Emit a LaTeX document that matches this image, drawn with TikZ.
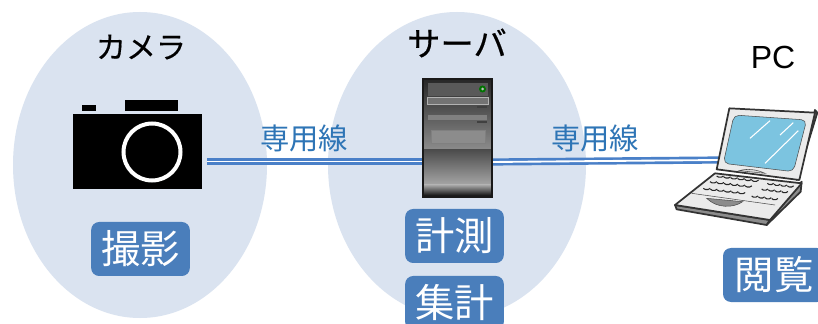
\documentclass[tikz,border=0pt]{standalone}
\usepackage{fontspec}
\setmainfont{Liberation Sans}
\newfontfamily\jpfont{Noto Sans CJK JP}
\newfontfamily\jptitle[FakeBold=0.5]{Noto Sans CJK JP}
\definecolor{zone}{HTML}{DAE3F0}
\definecolor{tagblue}{HTML}{4A7EBB}
\definecolor{wireblue}{HTML}{4A80C8}
\definecolor{labelblue}{HTML}{2E75B6}
\definecolor{screenblue}{HTML}{7CC4E0}
\begin{document}
\begin{tikzpicture}[x=.75pt,y=-.75pt]
	\tikzstyle{zonearea}=[fill=zone]
	\tikzstyle{title}=[text=black]
	\tikzstyle{wirelabel}=[font=\jpfont\fontsize{22}{22}\selectfont, text=labelblue]
	\tikzstyle{tag}=[fill=tagblue, rounded corners=6pt, text=white, minimum width=74pt, minimum height=40.5pt, inner sep=0pt, font=\jpfont\fontsize{29.5}{29.5}\selectfont]
	\tikzstyle{wire}=[draw=wireblue, line width=2pt, double=white, double distance=1.4pt]
	\tikzstyle{laptopline}=[draw=black!80, line width=1.3pt, line join=round]
	\clip (0,0) rectangle (818,324);
	\fill[white] (0,0) rectangle (818,324);
	% zones
	\fill[zonearea] (140,165) ellipse [x radius=127, y radius=153];
	\fill[zonearea] (457,165) ellipse [x radius=129, y radius=153];
	% wires
	\coordinate (camout) at (207,161.5);
	\coordinate (srvin) at (424,161.5);
	\coordinate (srvout) at (492,162);
	\coordinate (pcin) at (719,160);
	\draw[wire] (camout)--(srvin);
	\draw[wire] (srvout)--(pcin);
	% camera
	\fill[black] (82,105) rectangle (96,111);
	\fill[black] (125,100) rectangle (178,111);
	\node[fill=black, minimum width=96.75pt, minimum height=56.25pt, inner sep=0pt] (camera) at (137.5,151.5) {};
	\draw[white, line width=3pt] (152,152) circle [radius=28.5];
	% server
	\fill[top color=black!85, bottom color=black!45] (423,79) rectangle (492,150);
	\fill[top color=black!70, bottom color=black!35] (423,150) rectangle (492,185);
	\fill[top color=black!35, bottom color=black] (423,185) rectangle (492,197);
	\node[draw=black!90, line width=.8pt, minimum width=51.75pt, minimum height=88.5pt, inner sep=0pt] (server) at (457.5,138) {};
	\fill[black!65] (428,83) rectangle (488,96);
	\draw[black!30, fill=black!55, line width=.7pt] (427,97) rectangle (488,104);
	\fill[black!50] (428,115) rectangle (487,120);
	\fill[black!75] (477,106) rectangle (487,108);
	\fill[black!75] (477,121) rectangle (487,123);
	\draw[black!50, fill=black!45] (431,130) rectangle (485,143);
	\fill[green!45!black] (482.5,89) circle [radius=3.5];
	\fill[black!25] (482.5,89) circle [radius=1.5];
	% laptop
	\begin{scope}[shift={(650,80)},x=.25pt,y=-.25pt]
		\draw[laptopline, fill=black!55] (440,300)--(502,98)--(495,90)--(448,290)--cycle;
		\draw[laptopline, fill=black!8] (238,85)--(495,98)--(448,300)--(200,268)--cycle;
		\draw[black!70, fill=screenblue, rounded corners=4pt] (252,105)--(470,120)--(430,275)--(220,250)--cycle;
		\draw[white, line width=.8pt] (300,175)--(360,122);
		\draw[white, line width=.8pt] (390,165)--(430,128);
		\draw[white, line width=.8pt] (345,250)--(445,152);
		\draw[laptopline, fill=black!45] (75,375)--(80,388)--(350,435)--(360,420)--cycle;
		\draw[laptopline, fill=black!45] (350,435)--(452,335)--(455,305)--(360,420)--cycle;
		\draw[laptopline, fill=black!8] (75,375)--(195,280)--(455,310)--(360,420)--cycle;
		\draw[black!70, fill=black!15] (268,272)..controls (290,265) and (320,268)..(345,280)--cycle;
		\draw[black!70, fill=black!45] (170,355)..controls (200,385) and (250,385)..(278,365)--cycle;
		\draw[black!70] (125,340)--(375,375);
		% keys
		\foreach \r/\xa/\ya in {0/200/288,1/180/305,2/160/325}{
			\foreach \k in {0,...,5}{
				\draw[black!85, line width=.8pt] ({\xa+\k*21},{\ya+\k*2.5}) arc [start angle=160, end angle=20, x radius=11, y radius=6];
			}
		}
		\foreach \r/\xa/\ya in {0/352/310,1/335/327,2/305/348}{
			\foreach \k in {0,...,3}{
				\draw[black!85, line width=.8pt] ({\xa+\k*20},{\ya+\k*2.5}) arc [start angle=160, end angle=20, x radius=10, y radius=6];
			}
		}
	\end{scope}
	% labels
	\node[title, font=\jptitle\fontsize{22.5}{22.5}\selectfont] (camtitle) at (141,47) {カメラ};
	\node[title, font=\jptitle\fontsize{25}{25}\selectfont] (srvtitle) at (457,43) {サーバ};
	\node[title, font=\fontsize{24}{24}\selectfont] (pctitle) at (773,57.5) {PC};
	\node[wirelabel] (wirelabela) at (304,138) {専用線};
	\node[wirelabel] (wirelabelb) at (595,138) {専用線};
	\node[tag] (shoot) at (140.5,249) {撮影};
	\node[tag] (measure) at (454.5,236) {計測};
	\node[tag] (total) at (454.5,303) {集計};
	\node[tag, minimum width=76.5pt] (browse) at (774,275) {閲覧};
\end{tikzpicture}
\end{document}
